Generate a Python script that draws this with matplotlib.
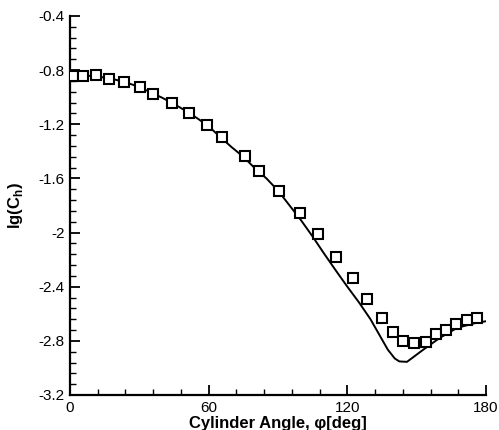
import matplotlib
matplotlib.use("Agg")
import matplotlib.pyplot as plt
from matplotlib.ticker import MultipleLocator

plt.rcParams['font.family'] = ['Liberation Sans', 'DejaVu Sans']
plt.rcParams['mathtext.fontset'] = 'custom'
plt.rcParams['mathtext.rm'] = 'Liberation Sans'
plt.rcParams['mathtext.bf'] = 'Liberation Sans:bold'

# experimental data (squares)
exp_angle = [1.5, 5.6, 11.3, 16.9, 23.4, 30.3, 35.9, 44.1, 51.5, 59.3, 65.8, 75.7,
             81.8, 90.4, 99.5, 107.3, 115.1, 122.5, 128.5, 135.0, 139.8, 144.1,
             148.8, 154.0, 158.3, 162.6, 167.0, 171.8, 176.1]
exp_lgch = [-0.843, -0.843, -0.836, -0.865, -0.887, -0.924, -0.976, -1.043, -1.117,
            -1.205, -1.294, -1.434, -1.545, -1.693, -1.855, -2.010, -2.180, -2.335,
            -2.490, -2.630, -2.734, -2.800, -2.815, -2.808, -2.749, -2.719, -2.675,
            -2.645, -2.630]

# computed curve (line)
sim_angle = [0, 5, 10, 15, 20, 25, 30, 35, 40, 45, 50, 55, 60, 65, 70, 75, 80, 85,
             90, 95, 100, 105, 110, 115, 120, 125, 130, 134, 137.5, 140.5, 142.5, 145.8,
             152.7, 160, 167.5, 175, 180]
sim_lgch = [-0.835, -0.84, -0.843, -0.855, -0.872, -0.895, -0.925, -0.965, -1.005,
            -1.05, -1.10, -1.155, -1.215, -1.294, -1.37, -1.44, -1.525, -1.60,
            -1.69, -1.80, -1.91, -2.03, -2.157, -2.28, -2.40, -2.515, -2.64, -2.76,
            -2.865, -2.93, -2.952, -2.955, -2.867, -2.778, -2.704, -2.67, -2.655]

fig = plt.figure(figsize=(4.99, 4.30), dpi=100)
ax = fig.add_axes([0.1403, 0.0814, 0.8337, 0.8814])

ax.plot(sim_angle, sim_lgch, color='black', lw=1.4, zorder=2)
ax.plot(exp_angle, exp_lgch, ls='none', marker='s', ms=6.8, mfc='white',
        mec='black', mew=1.5, zorder=3, clip_on=True)

ax.set_xlim(0, 180)
ax.set_ylim(-3.2, -0.4)
ax.xaxis.set_minor_locator(MultipleLocator(12))
ax.yaxis.set_minor_locator(MultipleLocator(0.08))
ax.set_yticks([-3.2, -2.8, -2.4, -2.0, -1.6, -1.2, -0.8, -0.4])
ax.set_yticklabels(['-3.2', '-2.8', '-2.4', '-2', '-1.6', '-1.2', '-0.8', '-0.4'])
ax.set_xticks([0, 60, 120, 180])
ax.set_xticklabels(['0', '60', '120', '180'])

for s in ['top', 'right']:
    ax.spines[s].set_visible(False)
for s in ['left', 'bottom']:
    ax.spines[s].set_linewidth(1.6)

ax.tick_params(which='major', direction='in', length=7, width=1.3, labelsize=11, pad=4)
ax.tick_params(which='minor', direction='in', length=4, width=1.0)

ax.set_xlabel('Cylinder Angle, φ[deg]', fontsize=12, fontweight='bold', va='top')
ax.xaxis.set_label_coords(0.5, -0.055)
ax.set_ylabel(r'lg(C$_\mathbf{h}$)', fontsize=12, fontweight='bold')
ax.yaxis.set_label_coords(-0.108, 0.5)

fig.savefig('out.png', dpi=100)
